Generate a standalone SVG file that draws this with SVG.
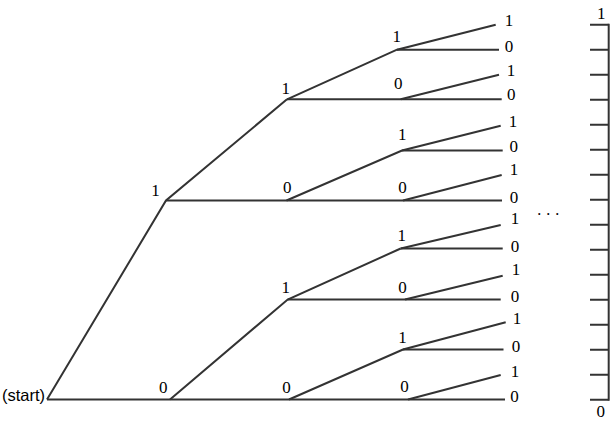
<svg xmlns="http://www.w3.org/2000/svg" width="610" height="423" viewBox="0 0 610 423">
<style>
.ln{fill:none;stroke:#333;stroke-width:2;stroke-linecap:butt;stroke-linejoin:miter}
.d{font-family:"Liberation Serif","Times New Roman",serif;font-size:17px;fill:#000;text-anchor:middle}
.s{font-family:"Liberation Sans",Arial,sans-serif;font-size:16.5px;fill:#000}
</style>
<rect width="610" height="423" fill="#fff"/>
<g id="connectors" class="ln">
<polyline points="47,399.5 166,200.5 287,99.3"/>
<line x1="47" y1="399.5" x2="505" y2="399.5"/>
<line x1="166" y1="200.5" x2="502" y2="200.5"/>
<polyline points="170,399.5 287.7,299.5 400.7,248.5"/>
<line x1="287.7" y1="299.5" x2="500.7" y2="299.5"/>
<line x1="287" y1="99.3" x2="501.7" y2="99.3"/>
<polyline points="287,99.3 397,49.7 495.7,24.7"/>
<line x1="397" y1="49.7" x2="499" y2="49.7"/>
<line x1="400.7" y1="99.3" x2="499" y2="74.7"/>
<polyline points="286.5,200.5 402,150.5 500.7,125.7"/>
<line x1="402" y1="150.5" x2="502.7" y2="150.5"/>
<line x1="403" y1="200.5" x2="501.7" y2="175"/>
<line x1="400.7" y1="248.5" x2="500.7" y2="225"/>
<line x1="400.7" y1="248.5" x2="502.7" y2="248.5"/>
<line x1="405" y1="299.5" x2="502.7" y2="275.7"/>
<polyline points="289,399.5 403,349.5 505.7,322.3"/>
<line x1="403" y1="349.5" x2="503.5" y2="349.5"/>
<line x1="408" y1="399.5" x2="500.7" y2="375"/>
</g>
<g id="start"><text class="s" x="2" y="401">(start)</text></g>
<g id="n1"><text class="d" x="155.5" y="195.7">1</text></g>
<g id="n0"><text class="d" x="163.3" y="393">0</text></g>
<g id="n11"><text class="d" x="285.7" y="94">1</text></g>
<g id="n10"><text class="d" x="287.3" y="193">0</text></g>
<g id="n01"><text class="d" x="285.7" y="293">1</text></g>
<g id="n00"><text class="d" x="286.5" y="393">0</text></g>
<g id="n111"><text class="d" x="396.7" y="41.5">1</text></g>
<g id="n110"><text class="d" x="398.3" y="89">0</text></g>
<g id="n101"><text class="d" x="402.3" y="140">1</text></g>
<g id="n100"><text class="d" x="402.5" y="193">0</text></g>
<g id="n011"><text class="d" x="401.7" y="240.5">1</text></g>
<g id="n010"><text class="d" x="402.5" y="292.5">0</text></g>
<g id="n001"><text class="d" x="402.5" y="343">1</text></g>
<g id="n000"><text class="d" x="404.5" y="391.5">0</text></g>
<g id="leaves">
<text class="d" x="509" y="26">1</text>
<text class="d" x="509" y="52.3">0</text>
<text class="d" x="511" y="76">1</text>
<text class="d" x="511.3" y="100">0</text>
<text class="d" x="513" y="126.7">1</text>
<text class="d" x="513.8" y="152.3">0</text>
<text class="d" x="514" y="175">1</text>
<text class="d" x="514" y="202.7">0</text>
<text class="d" x="515" y="224">1</text>
<text class="d" x="515" y="251.7">0</text>
<text class="d" x="516" y="275">1</text>
<text class="d" x="515" y="301.7">0</text>
<text class="d" x="517" y="324.3">1</text>
<text class="d" x="516" y="351.7">0</text>
<text class="d" x="515" y="376.7">1</text>
<text class="d" x="514.5" y="402.3">0</text>
</g>
<g id="ellipsis"><text x="537.3" y="214.5" font-family="Liberation Serif,serif" font-size="16px" letter-spacing="5">...</text></g>
<g id="scale">
<g class="ln">
<line x1="608.7" y1="23.7" x2="608.7" y2="400.7"/>
<path d="M590 24.7H608.7M590 49.7H608.7M590 74.7H608.7M590 99.7H608.7M590 124.7H608.7M590 149.7H608.7M590 174.7H608.7M590 199.7H608.7M590 224.7H608.7M590 249.7H608.7M590 274.7H608.7M590 299.7H608.7M590 324.7H608.7M590 349.7H608.7M590 374.7H608.7M590 399.7H608.7"/>
</g>
<text class="d" x="601.3" y="19">1</text>
<text class="d" x="600.8" y="417">0</text>
</g>
</svg>
